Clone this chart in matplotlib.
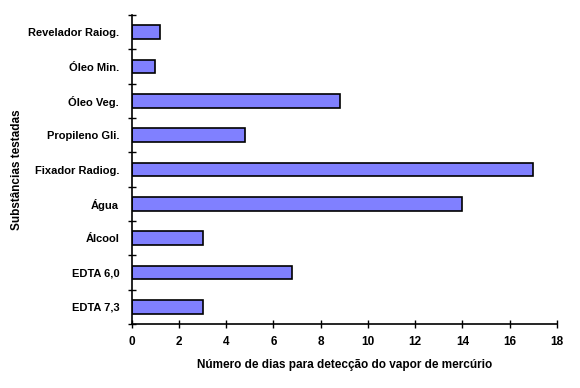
import matplotlib
matplotlib.use('Agg')
import matplotlib.pyplot as plt
import numpy as np

# data, top to bottom as shown in the chart
substancias = ['Revelador Raiog.', 'Óleo Min.', 'Óleo Veg.', 'Propileno Gli.',
               'Fixador Radiog.', 'Água', 'Álcool', 'EDTA 6,0', 'EDTA 7,3']
dias = [1.2, 1.0, 8.8, 4.8, 17.0, 14.0, 3.0, 6.8, 3.0]
x_ticks = [0, 2, 4, 6, 8, 10, 12, 14, 16, 18]

plt.rcParams['font.family'] = ['Liberation Sans', 'DejaVu Sans']
plt.rcParams['font.weight'] = 'bold'

fig = plt.figure(figsize=(5.8, 3.88), dpi=100)
ax = fig.add_axes([0.227, 0.165, 0.733, 0.796])

n = len(substancias)
pos = np.arange(n)[::-1]
ax.barh(pos, dias, height=0.4, color='#8080FF', edgecolor='black', linewidth=1.2)

ax.set_xlim(0, 18)
ax.set_ylim(-0.5, n - 0.5)
ax.set_xticks(x_ticks)
ax.set_xticklabels([str(t) for t in x_ticks], fontsize=8.5, fontweight='bold')

# category labels centred on bars, tick marks between categories
ax.set_yticks(pos)
ax.set_yticklabels(substancias, fontsize=8, fontweight='bold')
ax.tick_params(axis='y', which='major', length=0, pad=9)
ax.set_yticks(np.arange(-0.5, n, 1.0), minor=True)
ax.tick_params(axis='y', which='minor', direction='inout', length=6, width=1)
ax.tick_params(axis='x', direction='inout', length=6, width=1, pad=6)

for s in ['top', 'right']:
    ax.spines[s].set_visible(False)
for s in ['left', 'bottom']:
    ax.spines[s].set_linewidth(1.2)

ax.set_xlabel('Número de dias para detecção do vapor de mercúrio',
              fontsize=8.5, fontweight='bold')
ax.xaxis.set_label_coords(0.5, -0.113)
ax.set_ylabel('Substâncias testadas', fontsize=8.5, fontweight='bold')
ax.yaxis.set_label_coords(-0.255, 0.5)

fig.savefig('out.png', dpi=100)
